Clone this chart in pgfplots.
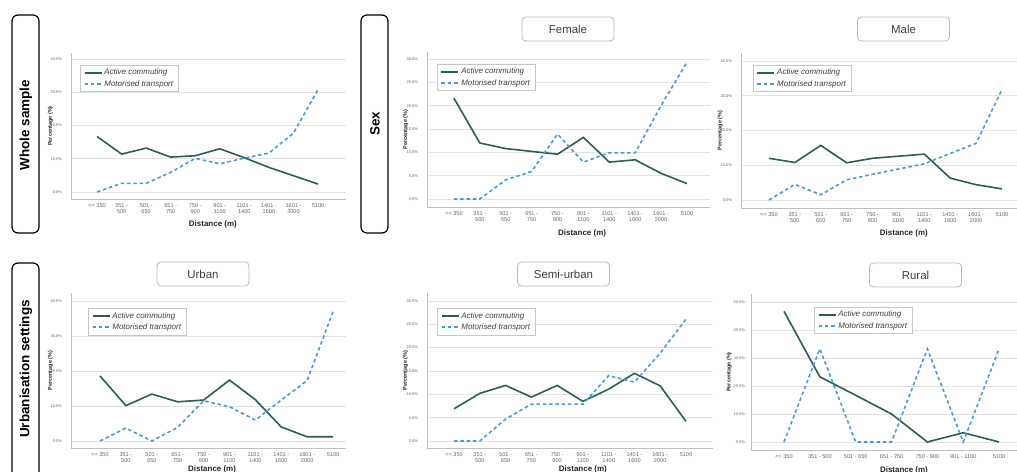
\documentclass[border=0pt]{standalone}
\usepackage{fontspec}
\setmainfont{Liberation Sans}
\usepackage{pgfplots}
\usepackage{pgfplotstable}
\pgfplotsset{compat=1.18}
\definecolor{actc}{RGB}{44,94,88}
\definecolor{motc}{RGB}{76,156,196}

\pgfplotstableread{
x act mot
0 16.7 0
1 11.4 2.6
2 13.2 2.6
3 10.5 5.9
4 10.9 10.1
5 13.0 8.5
6 10.3 10.2
7 7.4 11.7
8 4.9 17.7
9 2.4 30.8
}\whole
\pgfplotstableread{
x act mot
0 21.6 0
1 12.0 0
2 10.8 4.1
3 10.2 5.9
4 9.6 13.9
5 13.2 7.9
6 7.9 9.9
7 8.4 9.9
8 5.5 20.0
9 3.3 29.3
}\female
\pgfplotstableread{
x act mot
0 12.0 0
1 10.8 4.5
2 15.7 1.5
3 10.7 5.8
4 12.0 7.4
5 12.6 8.9
6 13.2 10.4
7 6.3 13.4
8 4.4 16.3
9 3.2 31.8
}\male
\pgfplotstableread{
x act mot
0 18.6 0
1 10.1 3.7
2 13.4 0
3 11.2 3.9
4 11.7 11.5
5 17.4 9.8
6 11.8 6.0
7 4.0 11.7
8 1.2 17.3
9 1.2 37.0
}\urban
\pgfplotstableread{
x act mot
0 6.9 0
1 10.2 0
2 11.9 4.7
3 9.4 7.9
4 11.9 7.9
5 8.5 7.9
6 11.1 14.0
7 14.5 12.6
8 11.8 18.8
9 4.2 26.1
}\semi
\pgfplotstableread{
x act mot
0 46.7 0
1 23.3 33.3
2 16.7 0
3 10.0 0
4 0 33.3
5 3.3 0
6 0 33.3
}\rural

\pgfplotsset{
  panel/.style={
    scale only axis,
    axis lines*=left,
    axis line style={draw=gray!50, line width=0.6bp, -},
    ymajorgrids,
    grid style={draw=gray!22, line width=0.7bp},
    major tick length=0pt,
    xtick={0,...,9},
    xticklabels={{<= 350},{351 -\\500},{501 -\\650},{651 -\\750},{750 -\\900},{901 -\\1100},{1101 -\\1400},{1401 -\\1600},{1601 -\\2000},{5100}},
    yticklabel style={font=\fontsize{4}{4}\selectfont, text=black!60, xshift=-5.5bp},
    xticklabel style={font=\fontsize{5.6}{5.8}\selectfont, text=black!60, align=center, yshift=-1.5bp},
    ylabel={Percentage (\%)},
    xlabel={Distance (m)},
    every axis y label/.style={at={(axis description cs:-0.075,0.5)}, rotate=90, anchor=center, font=\fontsize{5.5}{6}\selectfont\bfseries, text=black!85},
    every axis x label/.style={anchor=center, font=\fontsize{8}{9}\selectfont\bfseries, text=black!85},
    legend cell align=left,
    legend style={anchor=north west, draw=gray!45, line width=0.5bp, font=\fontsize{8}{9.5}\selectfont\itshape, text=black!75, inner xsep=3.5bp, inner ysep=2bp},
    legend image code/.code={\draw[##1] (0bp,0bp) -- (17bp,0bp);},
  },
  act/.style={color=actc, line width=1.6bp, mark=none},
  mot/.style={color=motc, line width=1.6bp, dash pattern=on 3.5bp off 2.8bp, mark=none},
  y40/.style={ytick={0,10,20,30,40}, yticklabels={0.0\%,10.0\%,20.0\%,30.0\%,40.0\%}},
  y30/.style={ytick={0,5,10,15,20,25,30}, yticklabels={0.0\%,5.0\%,10.0\%,15.0\%,20.0\%,25.0\%,30.0\%}},
}

\begin{document}
\begin{tikzpicture}[x=1bp,y=1bp]
\useasboundingbox (0,0) rectangle (1017,472);

% row labels
\draw[line width=1.2bp, rounded corners=6bp] (12,457) rectangle (39,239);
\node[rotate=90, font=\fontsize{13.5}{14}\selectfont\bfseries] at (26,347) {Whole sample};
\draw[line width=1.2bp, rounded corners=6bp] (361,457) rectangle (388,239);
\node[rotate=90, font=\fontsize{13.5}{14}\selectfont\bfseries] at (375,348) {Sex};
\draw[line width=1.2bp, rounded corners=6bp] (12,209) rectangle (39,-12);
\node[rotate=90, font=\fontsize{13.5}{14}\selectfont\bfseries] at (26,103) {Urbanisation settings};

% panel titles
\tikzset{ttl/.style={draw=gray!55, rounded corners=4bp, line width=0.8bp, minimum width=92bp, minimum height=24bp, font=\fontsize{11.5}{12}\selectfont, text=black!75}}
\node[ttl] at (568,443) {Female};
\node[ttl] at (903.5,443) {Male};
\node[ttl] at (203,198) {Urban};
\node[ttl] at (563.5,198) {Semi-urban};
\node[ttl] at (915.5,197) {Rural};

% Whole sample
\begin{axis}[panel, y40, at={(71bp,273bp)}, anchor=south west, width=275bp, height=146bp,
  xmin=-1.06, xmax=10.14, ymin=-2.1, ymax=41.8,
  xlabel style={at={(axis description cs:0.516,0)}, yshift=-25bp},
  legend style={at={(0.033,0.918)}}]
\addplot[act] table[x=x,y=act]{\whole};
\addplot[mot] table[x=x,y=mot]{\whole};
\legend{Active commuting, Motorised transport}
\end{axis}

% Female
\begin{axis}[panel, y30, at={(427bp,265bp)}, anchor=south west, width=283bp, height=155bp,
  xmin=-1.04, xmax=9.89, ymin=-1.71, ymax=31.5,
  xlabel style={at={(axis description cs:0.548,0)}, yshift=-26bp},
  legend style={at={(0.035,0.923)}}]
\addplot[act] table[x=x,y=act]{\female};
\addplot[mot] table[x=x,y=mot]{\female};
\legend{Active commuting, Motorised transport}
\end{axis}

% Male
\begin{axis}[panel, y40, at={(741bp,264bp)}, anchor=south west, width=276bp, height=155bp,
  xmin=-1.08, xmax=9.58, ymin=-2.3, ymax=42.3,
  xlabel style={at={(axis description cs:0.59,0)}, yshift=-25bp},
  legend style={at={(0.043,0.923)}}]
\addplot[act] table[x=x,y=act]{\male};
\addplot[mot] table[x=x,y=mot]{\male};
\legend{Active commuting, Motorised transport}
\end{axis}

% Urban
\begin{axis}[panel, y40, at={(71bp,24bp)}, anchor=south west, width=275bp, height=155bp,
  xmin=-1.12, xmax=9.5, ymin=-2.0, ymax=42.3,
  xlabel style={at={(axis description cs:0.513,0)}, yshift=-21bp},
  legend style={at={(0.062,0.903)}}]
\addplot[act] table[x=x,y=act]{\urban};
\addplot[mot] table[x=x,y=mot]{\urban};
\legend{Active commuting, Motorised transport}
\end{axis}

% Semi-urban
\begin{axis}[panel, y30, at={(427bp,24bp)}, anchor=south west, width=286bp, height=155bp,
  xmin=-1.05, xmax=10.05, ymin=-1.5, ymax=31.7,
  xlabel style={at={(axis description cs:0.545,0)}, yshift=-21bp},
  legend style={at={(0.035,0.903)}}]
\addplot[act] table[x=x,y=act]{\semi};
\addplot[mot] table[x=x,y=mot]{\semi};
\legend{Active commuting, Motorised transport}
\end{axis}

% Rural
\begin{axis}[panel, at={(751bp,22bp)}, anchor=south west, width=266bp, height=156bp,
  xmin=-0.92, xmax=6.5, ymin=-2.86, ymax=52.9,
  xtick={0,...,6},
  xticklabels={{<= 350},{351 - 500},{501 - 650},{651 - 750},{750 - 900},{901 - 1100},{5100}},
  ytick={0,10,20,30,40,50}, yticklabels={0.0\%,10.0\%,20.0\%,30.0\%,40.0\%,50.0\%},
  yticklabel style={xshift=3bp},
  every axis y label/.append style={at={(axis description cs:-0.082,0.5)}},
  xlabel style={at={(axis description cs:0.575,0)}, yshift=-20bp},
  legend style={at={(0.237,0.917)}}]
\addplot[act] table[x=x,y=act]{\rural};
\addplot[mot] table[x=x,y=mot]{\rural};
\legend{Active commuting, Motorised transport}
\end{axis}
\end{tikzpicture}
\end{document}
